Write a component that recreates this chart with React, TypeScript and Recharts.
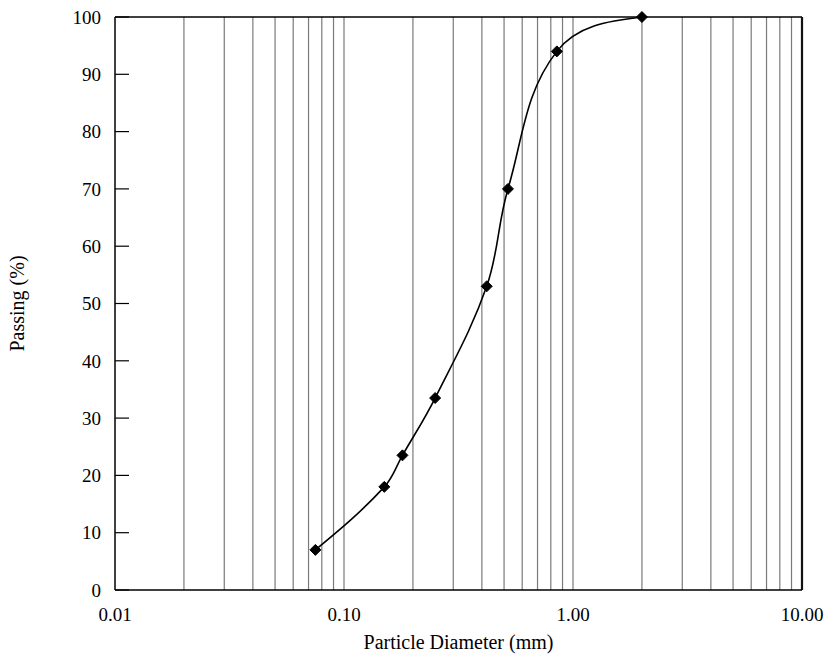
import React from 'react';
import { LineChart, Line, XAxis, YAxis, ReferenceLine } from 'recharts';

const diameters = [0.075, 0.15, 0.18, 0.25, 0.42, 0.52, 0.85, 2.0];
const passing = [7, 18, 23.5, 33.5, 53, 70, 94, 100];
const xTicks = [0.01, 0.1, 1, 10];
const yTicks = [0, 10, 20, 30, 40, 50, 60, 70, 80, 90, 100];
const gridValues = [
  0.02, 0.03, 0.04, 0.05, 0.06, 0.07, 0.08, 0.09, 0.1,
  0.2, 0.3, 0.4, 0.5, 0.6, 0.7, 0.8, 0.9, 1,
  2, 3, 4, 5, 6, 7, 8, 9,
];

const data = diameters.map((d, i) => ({ d, p: passing[i] }));

const FONT = '"Liberation Serif", "Times New Roman", serif';
const FS = 19;
const TITLE_FS = 20;

const unit = (dx: number, dy: number): [number, number] => {
  const l = Math.hypot(dx, dy) || 1;
  return [dx / l, dy / l];
};

// Smoothed line: tangent direction from neighbours, handle length proportional to segment length,
// end tangents partly reflected about the end chord
function smoothCurve(context: any) {
  let pts: [number, number][] = [];
  const K = 0.36;
  const E = 0.6;
  return {
    areaStart() {},
    areaEnd() {},
    lineStart() {
      pts = [];
    },
    point(x: number, y: number) {
      pts.push([+x, +y]);
    },
    lineEnd() {
      const n = pts.length;
      if (!n) return;
      context.moveTo(pts[0][0], pts[0][1]);
      if (n < 3) {
        for (let i = 1; i < n; i++) context.lineTo(pts[i][0], pts[i][1]);
        return;
      }
      const dirs: [number, number][] = pts.map((p, i) => {
        if (i === 0 || i === n - 1) return [0, 0];
        const a = pts[i - 1];
        const b = pts[i + 1];
        return unit(b[0] - a[0], b[1] - a[1]);
      });
      const c0 = unit(pts[1][0] - pts[0][0], pts[1][1] - pts[0][1]);
      dirs[0] = unit((1 + E) * c0[0] - E * dirs[1][0], (1 + E) * c0[1] - E * dirs[1][1]);
      const cn = unit(pts[n - 1][0] - pts[n - 2][0], pts[n - 1][1] - pts[n - 2][1]);
      dirs[n - 1] = unit((1 + E) * cn[0] - E * dirs[n - 2][0], (1 + E) * cn[1] - E * dirs[n - 2][1]);
      for (let i = 0; i < n - 1; i++) {
        const p1 = pts[i];
        const p2 = pts[i + 1];
        const seg = Math.hypot(p2[0] - p1[0], p2[1] - p1[1]) * K;
        const c1x = p1[0] + dirs[i][0] * seg;
        const c1y = p1[1] + dirs[i][1] * seg;
        const c2x = p2[0] - dirs[i + 1][0] * seg;
        const c2y = p2[1] - dirs[i + 1][1] * seg;
        context.bezierCurveTo(c1x, c1y, c2x, c2y, p2[0], p2[1]);
      }
    },
  };
}

const Diamond = (props: any) => {
  const { cx, cy } = props;
  if (cx == null || cy == null) return null;
  const r = 5.5;
  return (
    <polygon
      points={`${cx},${cy - r} ${cx + r},${cy} ${cx},${cy + r} ${cx - r},${cy}`}
      fill="#000"
      stroke="#000"
      strokeWidth={1}
    />
  );
};

const YTitle = (props: any) => {
  const vb = props.viewBox || {};
  const x = 24;
  const y = vb.y + vb.height / 2;
  return (
    <text
      x={x}
      y={y}
      transform={`rotate(-90 ${x} ${y})`}
      textAnchor="middle"
      fontFamily={FONT}
      fontSize={TITLE_FS}
      fill="#000"
    >
      Passing (%)
    </text>
  );
};

const XTitle = (props: any) => {
  const vb = props.viewBox || {};
  const x = vb.x + vb.width / 2;
  const y = vb.y + 59;
  return (
    <text x={x} y={y} textAnchor="middle" fontFamily={FONT} fontSize={TITLE_FS} fill="#000">
      Particle Diameter (mm)
    </text>
  );
};

export default function App() {
  return (
    <div style={{ position: 'absolute', left: 0, top: 0, background: '#fff' }}>
      <LineChart
        width={826}
        height={657}
        data={data}
        margin={{ top: 17, right: 24, bottom: 0, left: 0 }}
      >
        {gridValues.map((v) => (
          <ReferenceLine key={v} x={v} stroke="#7a7a7a" strokeWidth={1.2} />
        ))}
        <ReferenceLine y={100} stroke="#000" strokeWidth={1.5} />
        <ReferenceLine x={10} stroke="#111" strokeWidth={2.2} />
        <XAxis
          dataKey="d"
          type="number"
          scale="log"
          domain={[0.01, 10]}
          ticks={xTicks}
          allowDataOverflow
          tickFormatter={(v: number) => v.toFixed(2)}
          tickLine={false}
          tickSize={0}
          tickMargin={18}
          height={67}
          axisLine={{ stroke: '#000', strokeWidth: 1.5 }}
          tick={{ fill: '#000', fontFamily: FONT, fontSize: FS }}
          label={{ content: XTitle }}
        />
        <YAxis
          type="number"
          domain={[0, 100]}
          ticks={yTicks}
          interval={0}
          width={115}
          tickSize={-14}
          tickMargin={28}
          axisLine={{ stroke: '#000', strokeWidth: 1.5 }}
          tickLine={{ stroke: '#000', strokeWidth: 1.2 }}
          tick={{ fill: '#000', fontFamily: FONT, fontSize: FS }}
          label={{ content: YTitle }}
        />
        <Line
          dataKey="p"
          type={smoothCurve as any}
          stroke="#000"
          strokeWidth={1.6}
          dot={<Diamond />}
          activeDot={false}
          isAnimationActive={false}
        />
      </LineChart>
    </div>
  );
}
